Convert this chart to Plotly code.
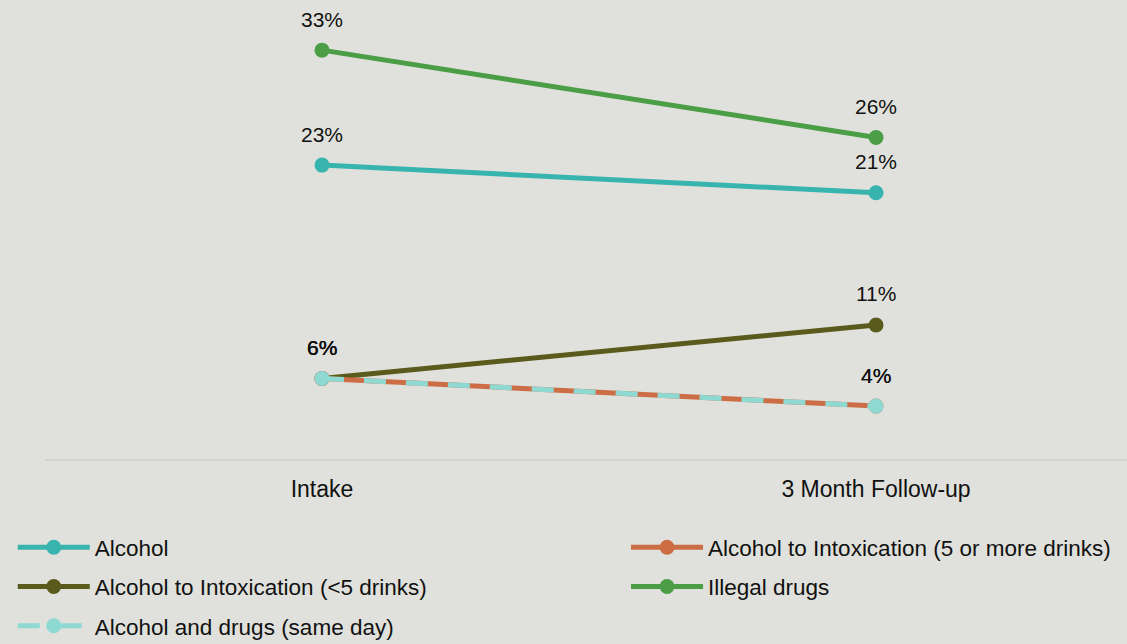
import plotly.graph_objects as go

categories = ["Intake", "3 Month Follow-up"]
alcohol = [23.65, 21.4]
intox_5plus = [6.3, 4.05]
intox_lt5 = [6.3, 10.65]
illegal = [33.0, 25.9]
same_day = [6.3, 4.05]

alcohol_labels = ["23%", "21%"]
intox_5plus_labels = ["6%", "4%"]
intox_lt5_labels = ["6%", "11%"]
illegal_labels = ["33%", "26%"]
same_day_labels = ["6%", "4%"]

series_names = [
    "Alcohol",
    "Alcohol to Intoxication (5 or more drinks)",
    "Alcohol to Intoxication (<5 drinks)",
    "Illegal drugs",
    "Alcohol and drugs (same day)",
]
colors = ["#38b4ae", "#cc6d45", "#5b5a1d", "#4b9e45", "#8fd9d3"]
BG = "#e0e1dc"
FONT = "Liberation Sans, Arial, sans-serif"

fig = go.Figure()
annotations = []

def add(name, vals, labels, color, legend, rank, dash="solid"):
    fig.add_trace(go.Scatter(
        x=categories, y=vals, name=name, mode="lines+markers",
        line=dict(color=color, width=5, dash=dash),
        marker=dict(color=color, size=15),
        legend=legend, legendgroup=name, legendrank=rank,
        cliponaxis=False,
    ))
    for c, v, t in zip(categories, vals, labels):
        annotations.append(dict(
            x=c, y=v, text=t, showarrow=False, yshift=31,
            font=dict(size=21, color="#111111", family=FONT),
        ))

add(series_names[0], alcohol, alcohol_labels, colors[0], "legend", 1)
add(series_names[3], illegal, illegal_labels, colors[3], "legend2", 2)
add(series_names[2], intox_lt5, intox_lt5_labels, colors[2], "legend", 2)
add(series_names[1], intox_5plus, intox_5plus_labels, colors[1], "legend2", 1)
add(series_names[4], same_day, same_day_labels, colors[4], "legend", 3, dash="22px,20px")

fig.update_layout(
    width=1127, height=644,
    paper_bgcolor=BG, plot_bgcolor=BG,
    margin=dict(l=45, r=0, t=20, b=185, autoexpand=False),
    font=dict(family=FONT, size=21, color="#111111"),
    xaxis=dict(type="category", range=[-0.5, 1.453], showgrid=False,
               showline=True, linecolor="#d2d3ce", linewidth=2,
               ticks="outside", ticklen=8, tickcolor="rgba(0,0,0,0)",
               tickfont=dict(size=23), zeroline=False),
    yaxis=dict(range=[-0.25, 35.45], visible=False),
    annotations=annotations,
    legend=dict(orientation="v", x=-0.0298, xanchor="left", y=-0.153, yanchor="top",
                traceorder="grouped", tracegroupgap=7, bgcolor="rgba(0,0,0,0)",
                font=dict(size=22.5), itemwidth=72),
    legend2=dict(orientation="v", x=0.537, xanchor="left", y=-0.153, yanchor="top",
                 traceorder="grouped", tracegroupgap=7, bgcolor="rgba(0,0,0,0)",
                 font=dict(size=22.5), itemwidth=72),
    showlegend=True,
)

fig.write_html("out.html", config={"displayModeBar": False},
               post_script="document.body.style.margin='0';")
